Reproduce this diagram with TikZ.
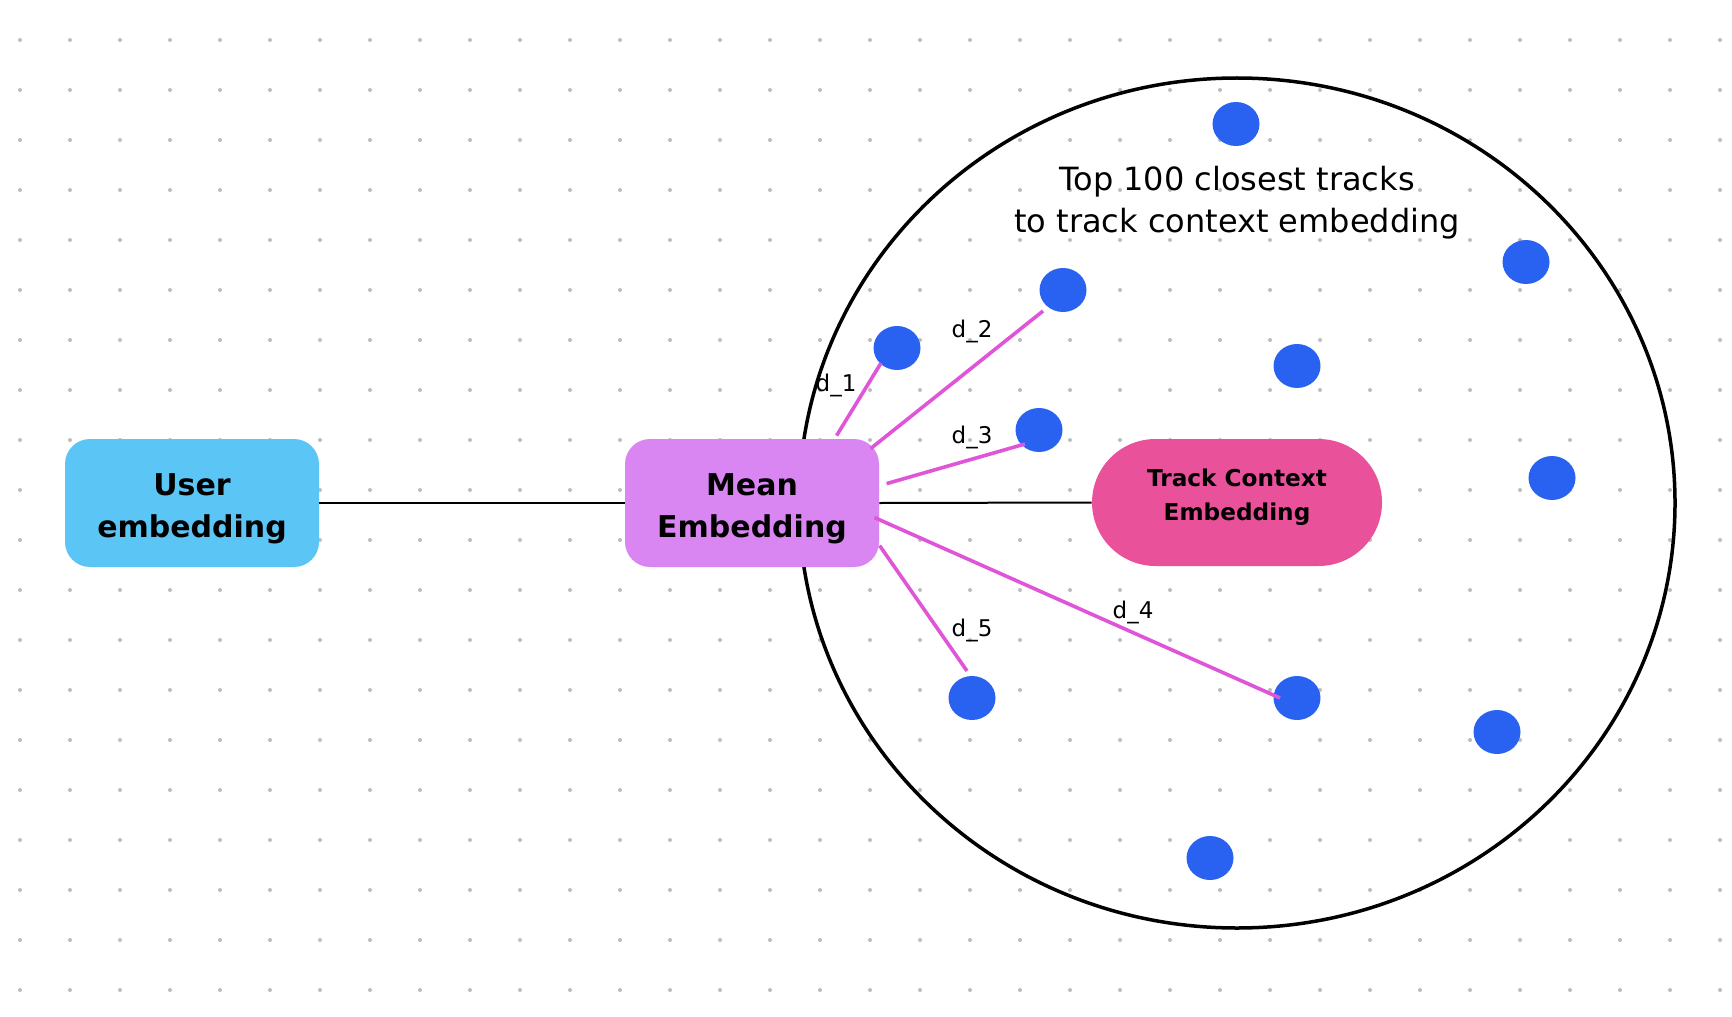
\documentclass[tikz,border=0pt]{standalone}
\usepackage{fontspec}
\setmainfont{DejaVu Sans}
\usetikzlibrary{shapes.geometric,calc}
\definecolor{userblue}{RGB}{91,197,245}
\definecolor{meanviolet}{RGB}{218,134,242}
\definecolor{trackpink}{RGB}{233,82,155}
\definecolor{dotblue}{RGB}{41,98,240}
\definecolor{distpink}{RGB}{224,85,216}
\definecolor{gridgray}{RGB}{189,189,189}
\newcommand{\topstrut}{\rule{0pt}{17pt}}
\newcommand{\botstrut}{\rule[-7.7pt]{0pt}{1pt}}
\begin{document}
\begin{tikzpicture}[x=0.5pt,y=-0.5pt,
  box/.style={rounded corners=12.5pt, inner sep=0pt, minimum width=127pt, minimum height=64pt,
    align=center, font=\bfseries\fontsize{15pt}{21pt}\selectfont},
  trackbox/.style={rounded corners=31.75pt, inner sep=0pt, minimum width=145pt, minimum height=63.5pt,
    align=center, fill=trackpink, font=\bfseries\fontsize{11.6pt}{17pt}\selectfont},
  trackdot/.style={ellipse, fill=dotblue, minimum width=23.5pt, minimum height=22pt, inner sep=0pt},
  dist/.style={draw=distpink, line width=1.8pt},
  link/.style={draw=black, line width=1pt},
  dlabel/.style={anchor=base, inner sep=0pt, font=\fontsize{11.5pt}{14pt}\selectfont},
]
\fill[white] (0,0) rectangle (1732,1016);
\useasboundingbox (0,0) rectangle (1732,1016);
% dotted grid
\foreach \gx in {20,70,...,1720}
  \foreach \gy in {40,90,...,990}
    \fill[gridgray] (\gx,\gy) circle (1pt);
% region
\node[ellipse, draw=black, line width=1.75pt, minimum width=438pt, minimum height=425pt, inner sep=0pt] (region) at (1237,503) {};
% boxes
\node[box, fill=userblue] (user) at (192,503) {\topstrut User\\embedding};
\node[box, fill=meanviolet] (mean) at (752,503) {\topstrut Mean\\Embedding};
\node[trackbox] (track) at (1237,502.5) {Track Context\\Embedding\botstrut};
\draw[link] (user.east) -- (mean.west);
\draw[link] (mean.east) -- (track.west);
% title
\node[align=center, font=\fontsize{16pt}{21pt}\selectfont] (title) at (1237,203) {Top 100 closest tracks\\to track context embedding};
% track dots
\node[trackdot] (dA) at (1236,124) {};
\node[trackdot] (dB) at (1526,262) {};
\node[trackdot] (dd2) at (1063,290) {};
\node[trackdot] (dd1) at (897,348) {};
\node[trackdot] (dC) at (1297,366) {};
\node[trackdot] (dd3) at (1039,430) {};
\node[trackdot] (dD) at (1552,478) {};
\node[trackdot] (dd5) at (972,698) {};
\node[trackdot] (dd4) at (1297,698) {};
\node[trackdot] (dE) at (1497,732) {};
\node[trackdot] (dF) at (1210,858) {};
% distances
\draw[dist] ($(mean.north west)+(212,-3)$) -- ($(dd1)+(-16,15)$);
\draw[dist] ($(mean.north west)+(246,10)$) -- ($(dd2)+(-20,21)$);
\draw[dist] ($(mean.north west)+(262,45)$) -- ($(dd3)+(-14,14)$);
\draw[dist] ($(mean.north west)+(250,79)$) -- ($(dd4)+(-17,0)$);
\draw[dist] ($(mean.north west)+(255,107)$) -- ($(dd5)+(-5,-27)$);
% labels
\node[dlabel] (l1) at (836,391) {d\_1};
\node[dlabel] (l2) at (972,337) {d\_2};
\node[dlabel] (l3) at (972,443) {d\_3};
\node[dlabel] (l4) at (1133,618) {d\_4};
\node[dlabel] (l5) at (972,636) {d\_5};
\end{tikzpicture}
\end{document}
